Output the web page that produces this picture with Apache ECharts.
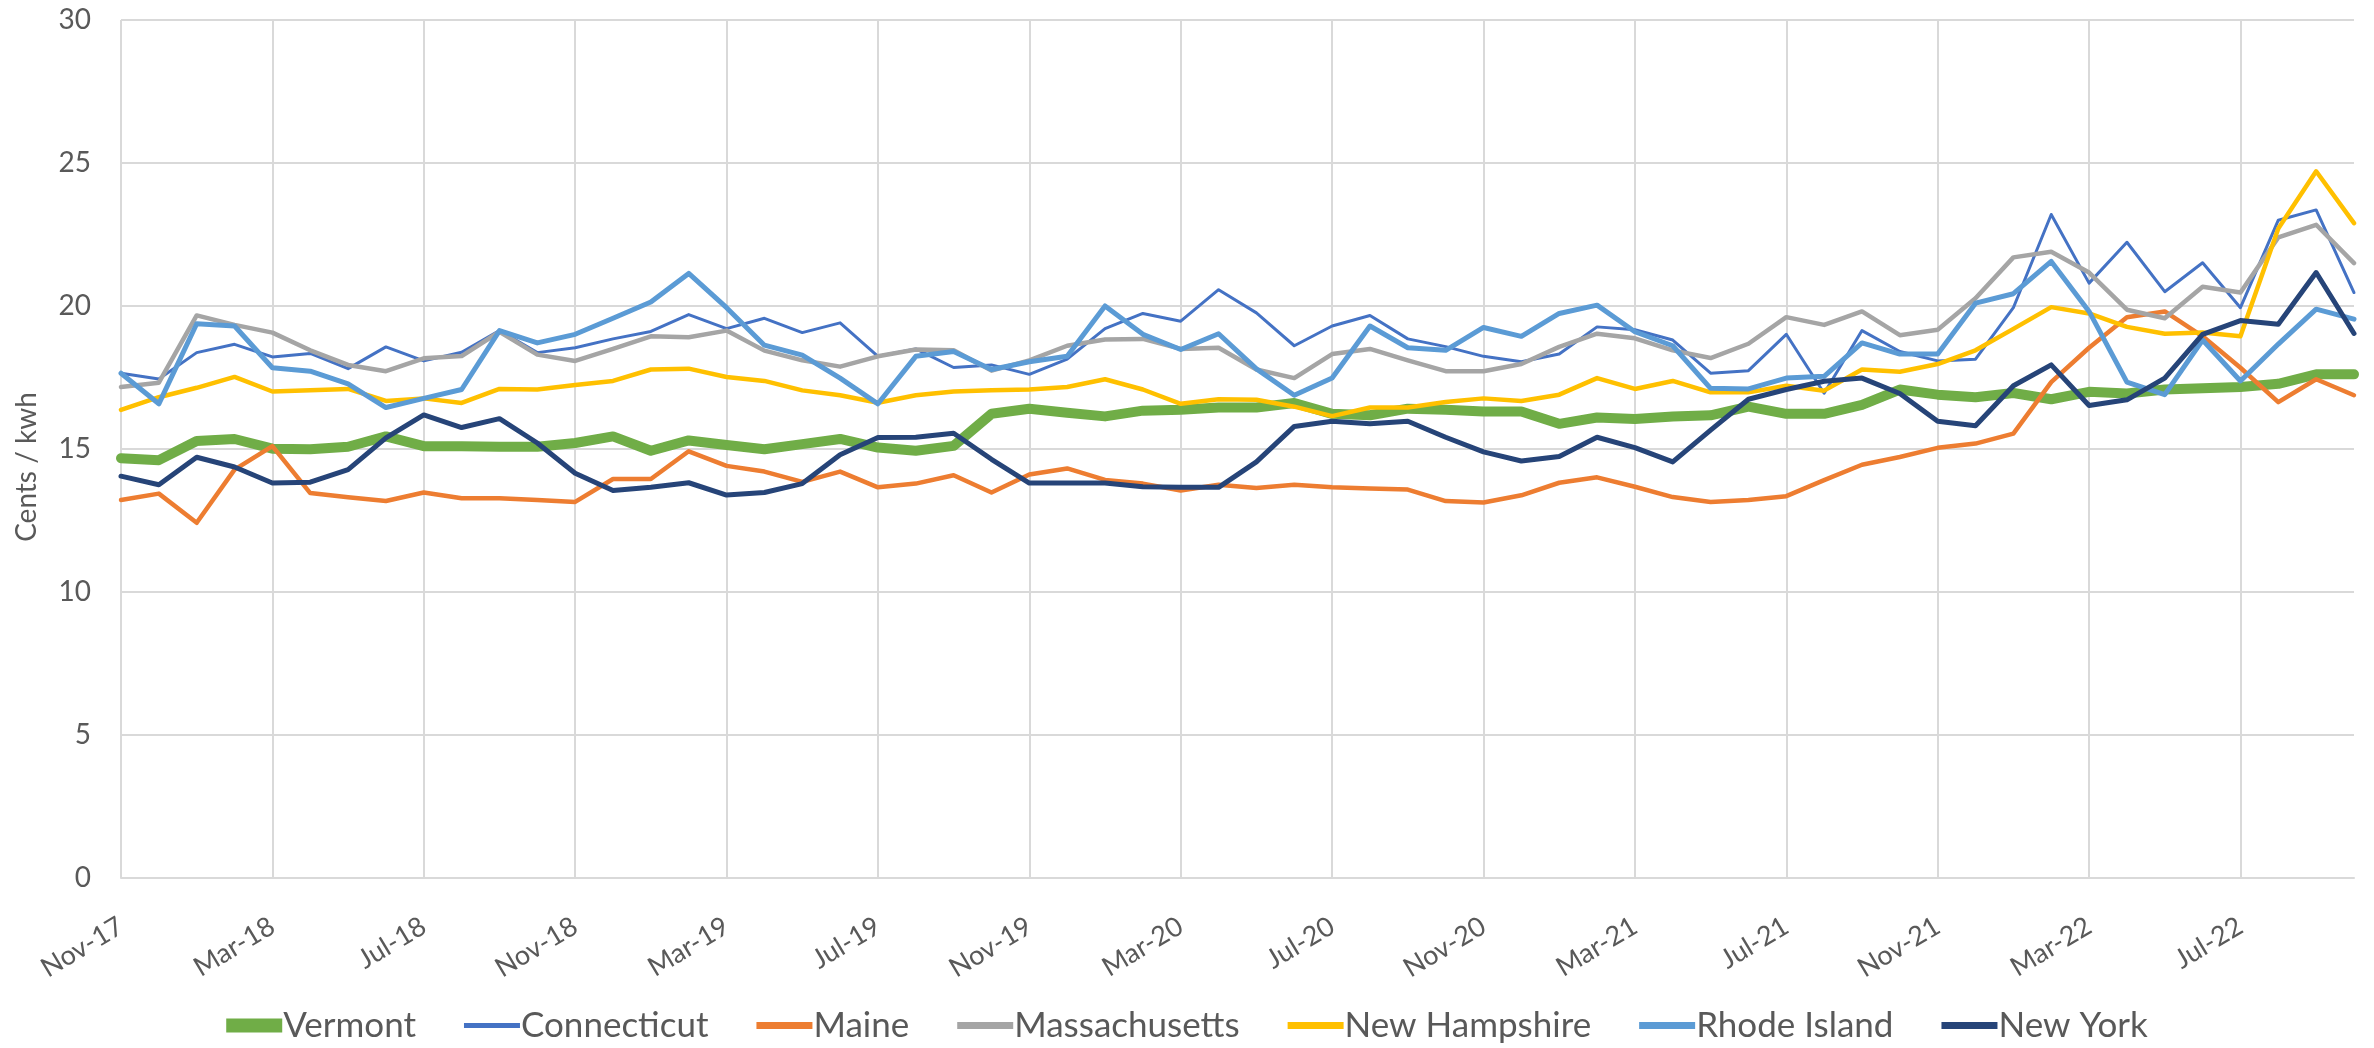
<!DOCTYPE html>
<html>
<head>
<meta charset="utf-8">
<title>Residential electricity price, New England and New York</title>
<script src="https://cdn.jsdelivr.net/npm/echarts@6/dist/echarts.min.js"></script>
<style>
  html, body { margin: 0; padding: 0; background: #fff; }
  #chart { width: 2374px; height: 1048px; }
</style>
</head>
<body>
<div id="chart"></div>
<script>
// monthly, Nov-17 .. Oct-22
const months = [
  'Nov-17', 'Dec-17', 'Jan-18', 'Feb-18', 'Mar-18', 'Apr-18', 'May-18', 'Jun-18', 'Jul-18', 'Aug-18', 'Sep-18', 'Oct-18',
  'Nov-18', 'Dec-18', 'Jan-19', 'Feb-19', 'Mar-19', 'Apr-19', 'May-19', 'Jun-19', 'Jul-19', 'Aug-19', 'Sep-19', 'Oct-19',
  'Nov-19', 'Dec-19', 'Jan-20', 'Feb-20', 'Mar-20', 'Apr-20', 'May-20', 'Jun-20', 'Jul-20', 'Aug-20', 'Sep-20', 'Oct-20',
  'Nov-20', 'Dec-20', 'Jan-21', 'Feb-21', 'Mar-21', 'Apr-21', 'May-21', 'Jun-21', 'Jul-21', 'Aug-21', 'Sep-21', 'Oct-21',
  'Nov-21', 'Dec-21', 'Jan-22', 'Feb-22', 'Mar-22', 'Apr-22', 'May-22', 'Jun-22', 'Jul-22', 'Aug-22', 'Sep-22', 'Oct-22'
];

const vermont = [
  14.68, 14.61, 15.28, 15.35, 15.01, 14.99, 15.08, 15.44, 15.10, 15.10, 15.08, 15.08,
  15.21, 15.44, 14.94, 15.30, 15.14, 14.99, 15.17, 15.35, 15.05, 14.94, 15.11, 16.23,
  16.41, 16.27, 16.14, 16.34, 16.37, 16.45, 16.45, 16.61, 16.23, 16.18, 16.41, 16.37,
  16.31, 16.31, 15.88, 16.10, 16.05, 16.14, 16.18, 16.48, 16.23, 16.23, 16.54, 17.08,
  16.90, 16.81, 16.96, 16.74, 17.00, 16.94, 17.08, 17.12, 17.17, 17.28, 17.61, 17.61
];
const connecticut = [
  17.65, 17.45, 18.37, 18.66, 18.22, 18.34, 17.81, 18.57, 18.08, 18.38, 19.14, 18.37,
  18.54, 18.85, 19.11, 19.70, 19.21, 19.57, 19.07, 19.41, 18.24, 18.50, 17.85, 17.94,
  17.61, 18.14, 19.21, 19.74, 19.47, 20.57, 19.76, 18.61, 19.30, 19.67, 18.85, 18.58,
  18.24, 18.05, 18.32, 19.27, 19.17, 18.81, 17.65, 17.74, 19.01, 16.95, 19.14, 18.41,
  18.08, 18.14, 19.94, 23.20, 20.80, 22.23, 20.50, 21.51, 19.94, 23.00, 23.36, 20.47
];
const maine = [
  13.22, 13.44, 12.42, 14.28, 15.10, 13.46, 13.31, 13.18, 13.48, 13.28, 13.28, 13.22,
  13.15, 13.95, 13.95, 14.92, 14.41, 14.21, 13.85, 14.21, 13.66, 13.79, 14.08, 13.48,
  14.11, 14.32, 13.92, 13.79, 13.55, 13.75, 13.64, 13.75, 13.66, 13.62, 13.58, 13.18,
  13.13, 13.38, 13.82, 14.01, 13.68, 13.32, 13.15, 13.22, 13.35, 13.91, 14.45, 14.72,
  15.04, 15.19, 15.54, 17.34, 18.54, 19.61, 19.81, 18.94, 17.84, 16.64, 17.44, 16.88
];
const massachusetts = [
  17.17, 17.32, 19.67, 19.34, 19.07, 18.45, 17.94, 17.72, 18.17, 18.25, 19.10, 18.30,
  18.08, 18.50, 18.94, 18.91, 19.14, 18.44, 18.10, 17.88, 18.24, 18.48, 18.45, 17.74,
  18.10, 18.61, 18.83, 18.85, 18.50, 18.54, 17.78, 17.48, 18.32, 18.50, 18.10, 17.72,
  17.72, 17.97, 18.57, 19.03, 18.87, 18.45, 18.18, 18.68, 19.61, 19.34, 19.81, 18.98,
  19.17, 20.27, 21.70, 21.90, 21.17, 19.87, 19.57, 20.67, 20.47, 22.40, 22.84, 21.50
];
const newHampshire = [
  16.37, 16.81, 17.14, 17.52, 17.01, 17.05, 17.10, 16.68, 16.77, 16.61, 17.10, 17.08,
  17.24, 17.38, 17.78, 17.81, 17.52, 17.38, 17.05, 16.88, 16.62, 16.88, 17.01, 17.05,
  17.08, 17.17, 17.44, 17.08, 16.58, 16.74, 16.72, 16.48, 16.15, 16.45, 16.45, 16.64,
  16.77, 16.68, 16.90, 17.48, 17.10, 17.38, 16.98, 16.98, 17.21, 17.04, 17.78, 17.70,
  17.97, 18.45, 19.20, 19.96, 19.74, 19.27, 19.03, 19.07, 18.94, 22.71, 24.71, 22.90
];
const rhodeIsland = [
  17.65, 16.58, 19.38, 19.30, 17.84, 17.72, 17.28, 16.45, 16.77, 17.08, 19.14, 18.71,
  19.01, 19.57, 20.14, 21.14, 19.94, 18.63, 18.28, 17.48, 16.58, 18.24, 18.41, 17.78,
  18.05, 18.24, 20.00, 19.01, 18.48, 19.03, 17.80, 16.88, 17.48, 19.30, 18.54, 18.45,
  19.25, 18.94, 19.74, 20.03, 19.10, 18.61, 17.12, 17.10, 17.48, 17.54, 18.71, 18.32,
  18.32, 20.10, 20.43, 21.56, 19.81, 17.34, 16.90, 18.81, 17.38, 18.67, 19.89, 19.54
];
const newYork = [
  14.05, 13.75, 14.71, 14.37, 13.81, 13.84, 14.28, 15.39, 16.19, 15.75, 16.06, 15.21,
  14.15, 13.55, 13.66, 13.82, 13.39, 13.48, 13.79, 14.80, 15.40, 15.41, 15.55, 14.64,
  13.81, 13.81, 13.81, 13.68, 13.66, 13.66, 14.55, 15.79, 15.97, 15.88, 15.97, 15.41,
  14.90, 14.58, 14.74, 15.41, 15.05, 14.55, 15.66, 16.74, 17.08, 17.37, 17.48, 16.94,
  15.97, 15.81, 17.21, 17.94, 16.52, 16.72, 17.48, 19.01, 19.49, 19.36, 21.17, 19.04
];

const FONT = 'Lato, "Open Sans", sans-serif';
const TEXT = '#595959';
const GRID = '#d9d9d9';

// legend swatches: a thick bar for Vermont, thinner bars for the rest
const ICON_THICK = 'path://M0,0 L56,0 L56,14 L0,14 Z';
const ICON_MID = 'path://M0,0 M0,3.5 L56,3.5 L56,10.5 L0,10.5 Z M56,14';
const ICON_THIN = 'path://M0,0 M0,4.5 L56,4.5 L56,9.5 L0,9.5 Z M56,14';

function line(name, data, color, width) {
  return {
    name: name,
    type: 'line',
    data: data,
    symbol: 'none',
    lineStyle: { color: color, width: width, join: 'round', cap: 'round' },
    itemStyle: { color: color }
  };
}

const chart = echarts.init(document.getElementById('chart'));

const option = {
  animation: false,
  backgroundColor: '#fff',
  textStyle: { fontFamily: FONT },
  grid: { left: 121, right: 20, top: 20, bottom: 170 },
  legend: {
    bottom: 0,
    left: 'center',
    itemWidth: 56,
    itemHeight: 14,
    itemGap: 48,
    itemStyle: { borderWidth: 0 },
    textStyle: { color: TEXT, fontSize: 35, fontFamily: FONT, padding: [0, 0, 0, -4] },
    data: [
      { name: 'Vermont', icon: ICON_THICK },
      { name: 'Connecticut', icon: ICON_THIN },
      { name: 'Maine', icon: ICON_MID },
      { name: 'Massachusetts', icon: ICON_MID },
      { name: 'New Hampshire', icon: ICON_MID },
      { name: 'Rhode Island', icon: ICON_MID },
      { name: 'New York', icon: ICON_MID }
    ]
  },
  xAxis: {
    type: 'category',
    data: months,
    boundaryGap: false,
    axisTick: { show: false },
    axisLine: { lineStyle: { color: GRID, width: 2 } },
    splitLine: { show: true, interval: 3, lineStyle: { color: GRID, width: 2 } },
    axisLabel: {
      interval: 3,
      rotate: 31,
      margin: 46,
      color: TEXT,
      fontSize: 27,
      fontFamily: FONT
    }
  },
  yAxis: {
    type: 'value',
    min: 0,
    max: 30,
    interval: 5,
    name: 'Cents / kwh',
    nameLocation: 'middle',
    nameGap: 80,
    nameTextStyle: { color: TEXT, fontSize: 28, fontFamily: FONT, padding: [0, 36, 0, 0] },
    axisLine: { show: false },
    axisTick: { show: false },
    splitLine: { lineStyle: { color: GRID, width: 2 } },
    axisLabel: { color: TEXT, fontSize: 28, margin: 30, fontFamily: FONT }
  },
  series: [
    line('Vermont', vermont, '#70ad47', 10),
    line('Connecticut', connecticut, '#4472c4', 3),
    line('Maine', maine, '#ed7d31', 4.5),
    line('Massachusetts', massachusetts, '#a5a5a5', 4.5),
    line('New Hampshire', newHampshire, '#ffc000', 4.5),
    line('Rhode Island', rhodeIsland, '#5b9bd5', 5),
    line('New York', newYork, '#264478', 5)
  ]
};

chart.setOption(option);
</script>
</body>
</html>
